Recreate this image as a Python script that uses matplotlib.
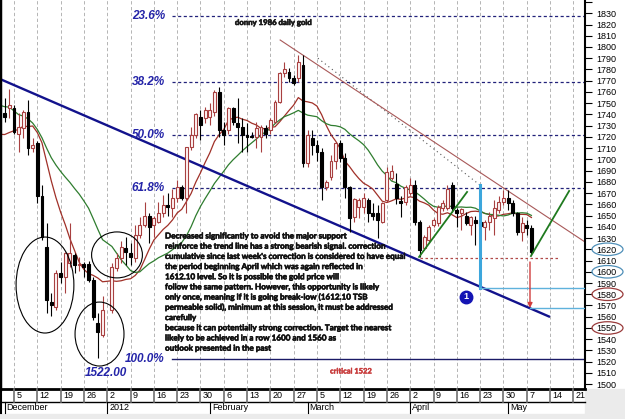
import numpy as np
import pandas as pd
import matplotlib
matplotlib.use('Agg')
import matplotlib.pyplot as plt
import matplotlib.transforms as mtransforms
import matplotlib.patheffects as pe
from matplotlib.patches import Ellipse, Rectangle
from matplotlib.lines import Line2D
from matplotlib import font_manager as fm

# ---------------- data ----------------
dates = pd.bdate_range('2011-12-01', '2012-05-08').drop(pd.Timestamp('2012-01-02'))
opens = [1741, 1746, 1746, 1723, 1728, 1742, 1710, 1715, 1667, 1622, 1573, 1569,
         1599, 1595, 1608, 1615, 1606, 1607, 1607, 1593, 1554, 1544,
         1566, 1603, 1612, 1621, 1617, 1612, 1633, 1642, 1650, 1642, 1644, 1652, 1659, 1657,
         1666, 1675, 1666, 1711, 1722, 1738, 1737,
         1738, 1742, 1760, 1726, 1726, 1746, 1732, 1729, 1722, 1721, 1720, 1720, 1728,
         1726, 1733, 1751, 1777, 1778, 1772, 1772, 1784,
         1697, 1719, 1713, 1707, 1675, 1684, 1699, 1715, 1701, 1675, 1649, 1658, 1658, 1664,
         1652, 1652, 1644, 1664, 1683, 1678,
         1663, 1662, 1670, 1677, 1644, 1621, 1628, 1642, 1643, 1657, 1657, 1677, 1655, 1652,
         1650, 1642, 1646, 1644, 1640, 1644, 1648, 1655, 1662,
         1666, 1661, 1652, 1635, 1642, 1639]
highs = [1755, 1763, 1748, 1741, 1744, 1753, 1719, 1716, 1677, 1643, 1581, 1602,
         1609, 1618, 1643, 1617, 1613, 1609, 1610, 1595, 1563, 1578,
         1608, 1617, 1627, 1631, 1626, 1642, 1649, 1662, 1652, 1650, 1662, 1668, 1670, 1674,
         1682, 1677, 1711, 1729, 1741, 1744, 1747,
         1750, 1762, 1764, 1733, 1747, 1747, 1755, 1737, 1732, 1724, 1733, 1731, 1731,
         1737, 1753, 1778, 1787, 1781, 1775, 1793, 1793,
         1726, 1726, 1717, 1710, 1682, 1704, 1715, 1717, 1706, 1676, 1666, 1666, 1670, 1666,
         1661, 1659, 1662, 1693, 1695, 1688,
         1667, 1677, 1683, 1682, 1646, 1633, 1642, 1648, 1659, 1664, 1677, 1680, 1657, 1657,
         1653, 1650, 1650, 1648, 1646, 1653, 1664, 1667, 1673,
         1673, 1664, 1653, 1649, 1646, 1642]
lows = [1733, 1737, 1723, 1707, 1719, 1704, 1707, 1661, 1628, 1563, 1561, 1566,
        1590, 1581, 1604, 1599, 1601, 1595, 1591, 1557, 1523, 1542,
        1563, 1601, 1608, 1606, 1606, 1609, 1630, 1640, 1626, 1631, 1643, 1649, 1650, 1649,
        1662, 1664, 1652, 1708, 1719, 1717, 1732,
        1731, 1739, 1720, 1713, 1723, 1731, 1715, 1707, 1707, 1719, 1710, 1707, 1719,
        1723, 1732, 1750, 1773, 1769, 1766, 1769, 1693,
        1693, 1704, 1699, 1664, 1673, 1682, 1691, 1698, 1666, 1635, 1644, 1648, 1652, 1644,
        1646, 1630, 1643, 1662, 1682, 1660,
        1649, 1659, 1668, 1642, 1613, 1619, 1626, 1640, 1641, 1654, 1655, 1653, 1640, 1637,
        1642, 1633, 1624, 1635, 1628, 1637, 1633, 1652, 1659,
        1655, 1650, 1633, 1627, 1633, 1615]
closes = [1738, 1748, 1724, 1729, 1742, 1710, 1713, 1667, 1631, 1575, 1570, 1599,
          1595, 1617, 1617, 1606, 1607, 1604, 1593, 1560, 1546, 1566,
          1604, 1612, 1622, 1618, 1613, 1633, 1642, 1650, 1640, 1648, 1652, 1659, 1658, 1666,
          1675, 1666, 1711, 1722, 1740, 1731, 1744,
          1744, 1760, 1726, 1722, 1746, 1733, 1729, 1722, 1720, 1720, 1728, 1729, 1723,
          1735, 1751, 1777, 1780, 1772, 1768, 1787, 1697,
          1722, 1713, 1707, 1675, 1680, 1699, 1715, 1701, 1675, 1648, 1665, 1664, 1666, 1652,
          1650, 1646, 1661, 1689, 1690, 1666,
          1661, 1675, 1677, 1644, 1619, 1631, 1640, 1646, 1658, 1661, 1674, 1657, 1652, 1656,
          1643, 1649, 1643, 1641, 1644, 1650, 1657, 1662, 1666,
          1661, 1652, 1635, 1643, 1639, 1618]

# closes just before the first candle (only feed the moving averages)
warmup_dates = pd.bdate_range('2011-11-03', '2011-11-30')
warmup_closes = [1763, 1755, 1792, 1795, 1768, 1758, 1788, 1780, 1780, 1760,
                 1740, 1730, 1708, 1718, 1712, 1714, 1708, 1725, 1722, 1746]

fib_high, fib_low = 1922.0, 1522.0
fib_ratios = [0.236, 0.382, 0.5, 0.618, 1.0]
fib_labels = ['23.6%', '38.2%', '50.0%', '61.8%', '100.0%']
low_label = '1522.00'

price_ticks = list(range(1500, 1850, 10))
week_starts = pd.date_range('2011-12-05', '2012-05-21', freq='W-MON')
month_names = ['December', '2012', 'February', 'March', 'April', 'May']
month_starts = pd.to_datetime(['2011-12-01', '2012-01-02', '2012-02-01',
                               '2012-03-01', '2012-04-02', '2012-05-01'])
support_level = 1612.10
circled_blue = [1620, 1600]
circled_brown = [1580, 1550]

title_text = 'donny 1986 daily gold'
critical_text = 'critical 1522'
note_lines = [
    "Decreased significantly to avoid the major support",
    "reinforce the trend line has a strong bearish signal. correction",
    "cumulative since last week's correction is considered to have equal",
    "the period beginning April which was again reflected in",
    "1612.10 level. So it is possible the gold price will",
    "follow the same pattern. However, this opportunity is likely",
    "only once, meaning if it is going break-low (1612.10 TSB",
    "permeable solid), minimum at this session, it must be addressed",
    "carefully",
    "because it can potentially strong correction. Target the nearest",
    "likely to be achieved in a row 1600 and 1560 as",
    "outlook presented in the past",
]

# ---------------- helpers ----------------
ORIGIN = np.datetime64('2011-12-05')


def bx(d):
    return np.busday_count(ORIGIN, np.asarray(pd.DatetimeIndex(d).values.astype('datetime64[D]')))


names = {f.name for f in fm.fontManager.ttflist}
note_font = 'Liberation Sans Narrow' if 'Liberation Sans Narrow' in names else 'Lato'
base_font = 'Liberation Sans'

W, H = 625, 419
AX_R, AX_B = 585, 389

fig = plt.figure(figsize=(W / 100, H / 100), dpi=100)
fig.patch.set_facecolor('white')
ax = fig.add_axes([0, (H - AX_B) / H, AX_R / W, AX_B / H])
ax.set_xlim(-3.0, 122.5)
ax.set_ylim(1495.7, 1841.8)
ax.set_facecolor('white')

# grey outer strips
fig.add_artist(Rectangle((AX_R / W, 0), (W - AX_R) / W, (H - AX_B) / H,
                         transform=fig.transFigure, color='#ebebeb', zorder=0))
fig.add_artist(Rectangle((0, 0), 1, 5 / H, transform=fig.transFigure,
                         color='#ebebeb', zorder=0))

x = bx(dates)
O = np.array(opens, float); Hh = np.array(highs, float)
L = np.array(lows, float); C = np.array(closes, float)

# vertical grid
for xv in bx(week_starts):
    ax.axvline(xv, color='#a8a8a8', lw=0.6, ls=(0, (4, 3)), zorder=0.5)

# fibonacci levels
fib_vals = [fib_high - r * (fib_high - fib_low) for r in fib_ratios]
fib_start = 33.9
for v, lab, r in zip(fib_vals, fib_labels, fib_ratios):
    if r < 1.0:
        ax.plot([fib_start, 122.5], [v, v], color='#22227a', lw=0.9,
                ls=(0, (2.5, 2)), zorder=1)
    else:
        ax.plot([fib_start, 122.5], [v, v], color='#1a1a66', lw=1.0, zorder=1)
    ax.text(32.4, v, lab, ha='right', va='center', color='#2424a8',
            fontsize=8.5, fontweight='bold', fontstyle='italic', family=base_font, zorder=5)
ax.text(19.7, 1510, low_label, ha='center', va='center', color='#2424a8',
        fontsize=8.5, fontweight='bold', fontstyle='italic', family=base_font, zorder=5)

# moving averages
all_dates = warmup_dates.append(dates)
all_close = pd.Series(list(warmup_closes) + list(closes), index=all_dates)
xa = bx(all_dates)
ax.plot(xa, all_close.rolling(10).mean().values, color='#a03028', lw=0.9, zorder=2)
ax.plot(xa, all_close.rolling(20).mean().values, color='#2f7d2f', lw=0.9, zorder=2)

# trend lines
ax.plot([-3.0, 115.0], [1771.5, 1559.8], color='#12128c', lw=1.7, zorder=2.5,
        solid_capstyle='butt')
ax.plot([57.1, 122.5], [1806.2, 1626.5], color='#a85858', lw=0.8, zorder=2.5)
ax.plot([65.2, 100.0], [1790.0, 1677.0], color='#555555', lw=0.8,
        ls=(0, (1, 3)), zorder=2.2)

# candles
up = C >= O
bull_col = '#a84040'
ax.vlines(x[up], L[up], Hh[up], color=bull_col, lw=0.8, zorder=2.9)
ax.vlines(x[~up], L[~up], Hh[~up], color='black', lw=0.8, zorder=2.9)
body = np.maximum(np.abs(C - O), 0.7)
bottom = np.minimum(O, C)
ax.bar(x[up], body[up], bottom=bottom[up], width=0.62, color='#fff6f6',
       edgecolor=bull_col, linewidth=0.8, zorder=3)
ax.bar(x[~up], body[~up], bottom=bottom[~up], width=0.62, color='black',
       edgecolor='black', linewidth=0.8, zorder=3)

# green projection lines
ax.plot([86.9, 97.2], [1613.2, 1671.0], color='#1f7a1f', lw=1.3, zorder=4)
ax.plot([110.9, 119.1], [1614.0, 1671.9], color='#1f7a1f', lw=1.3, zorder=4)

# support dashed line
ax.plot([87.1, 117.2], [support_level, support_level], color='#b04a4a', lw=0.9,
        ls=(0, (2, 2)), zorder=4)

# cyan measured move
ax.plot([100.0, 100.0], [1677.2, 1585.6], color='#3ca6dc', lw=2.2, zorder=4)
ax.plot([100.0, 122.5], [1585.6, 1585.6], color='#5fb2dc', lw=1.0, zorder=4)
ax.plot([110.7, 122.5], [1567.8, 1567.8], color='#5fb2dc', lw=1.0, zorder=4)

# red arrow
ax.annotate('', xy=(110.7, 1567.8), xytext=(110.7, 1608.7),
            arrowprops=dict(arrowstyle='-|>', color='#d03c3c', lw=1.0,
                            mutation_scale=7, shrinkA=0, shrinkB=0), zorder=4)

# numbered marker
ax.plot([97.0], [1577.6], marker='o', ms=9, color='#1414b4', zorder=5)
ax.text(97.0, 1577.6, '1', color='white', fontsize=6.5, fontweight='bold',
        ha='center', va='center', family=base_font, zorder=6)

# ellipses
for (cx, cy, w, h) in [(6.65, 1588.2, 12.4, 85.4), (18.35, 1544.6, 10.5, 56.9),
                       (22.1, 1615.0, 10.9, 40.9)]:
    ax.add_patch(Ellipse((cx, cy), w, h, fill=False, ec='black', lw=0.8, zorder=4))

# texts
renderer = fig.canvas.get_renderer()


def fit(t, target):
    w = t.get_window_extent(renderer).width
    t.set_fontsize(t.get_fontsize() * target / w)


t_title = ax.text(47.4, 1821.8, title_text, ha='left', va='center', fontsize=6,
                  fontweight='bold', family=note_font, color='#1a1a1a', zorder=6,
                  path_effects=[pe.withStroke(linewidth=0.45, foreground='#1a1a1a')])
fit(t_title, 77)
t_crit = ax.text(67.8, 1511.7, critical_text, ha='left', va='center', fontsize=6,
                 fontweight='bold', family=note_font, color='#c83c3c', zorder=6,
                 path_effects=[pe.withStroke(linewidth=0.3, foreground='#c83c3c')])
fit(t_crit, 42)

note_objs = []
for k, line in enumerate(note_lines):
    ypx = 236 + 10.2 * k
    yv = 1841.8 - 0.8897 * ypx
    note_objs.append(ax.text(32.4, yv, line, ha='left', va='center', fontsize=6.5,
                             family=note_font, fontweight='bold', color='#111111', zorder=6,
                             path_effects=[pe.withStroke(linewidth=0.4, foreground='#111111')]))
w3 = note_objs[2].get_window_extent(renderer).width
fs = 6.5 * 240 / w3
for t in note_objs:
    t.set_fontsize(fs)

# axes styling
ax.set_xticks([])
ax.yaxis.tick_right()
ax.set_yticks(price_ticks)
ax.set_yticklabels([str(p) if p < 1840 else '' for p in price_ticks], family=base_font)
ax.tick_params(axis='y', direction='out', length=5, width=0.8, pad=3.5,
               labelsize=6.5, colors='black')
ax.spines['top'].set_visible(False)
ax.spines['left'].set_linewidth(2.5)
ax.spines['right'].set_linewidth(1.5)
ax.spines['bottom'].set_linewidth(2.0)

# circled price labels
for vals, col in [(circled_blue, '#4f8fb8'), (circled_brown, '#9a3b3b')]:
    for v in vals:
        yd = ax.transData.transform((0, v))[1]
        fig.add_artist(Ellipse((607.5, yd), 31, 12.5, fill=False, ec=col, lw=0.9,
                               transform=mtransforms.IdentityTransform(), zorder=5))

# date rows below the chart
bt = mtransforms.blended_transform_factory(ax.transData, fig.transFigure)


def fy(py):
    return 1 - py / H


row1_top, row1_bot, row2_bot = 389, 401.5, 413
fig.add_artist(Line2D([0, AX_R / W], [fy(row1_bot)] * 2, transform=fig.transFigure,
                      color='black', lw=1.0))
fig.add_artist(Line2D([0.5 / W] * 2, [fy(row1_top), fy(row2_bot)], transform=fig.transFigure,
                      color='black', lw=1.5))
for d, xv in zip(week_starts, bx(week_starts)):
    fig.add_artist(Line2D([xv, xv], [fy(row1_top), fy(row1_bot)], transform=bt,
                          color='#707070', lw=1.2))
    fig.text(xv, fy(395.5), str(d.day), transform=mtransforms.offset_copy(bt, fig=fig, x=2.5, units='dots'),
             ha='left', va='center', fontsize=6.5, family=base_font, color='black')
for name, xv in zip(month_names, bx(month_starts)):
    fig.add_artist(Line2D([xv, xv], [fy(row1_bot), fy(row2_bot)], transform=bt,
                          color='black', lw=0.8))
    fig.text(xv, fy(407.5), name, transform=mtransforms.offset_copy(bt, fig=fig, x=2, units='dots'),
             ha='left', va='center', fontsize=6.5, family=base_font, color='black')

fig.savefig('out.png', dpi=100)
